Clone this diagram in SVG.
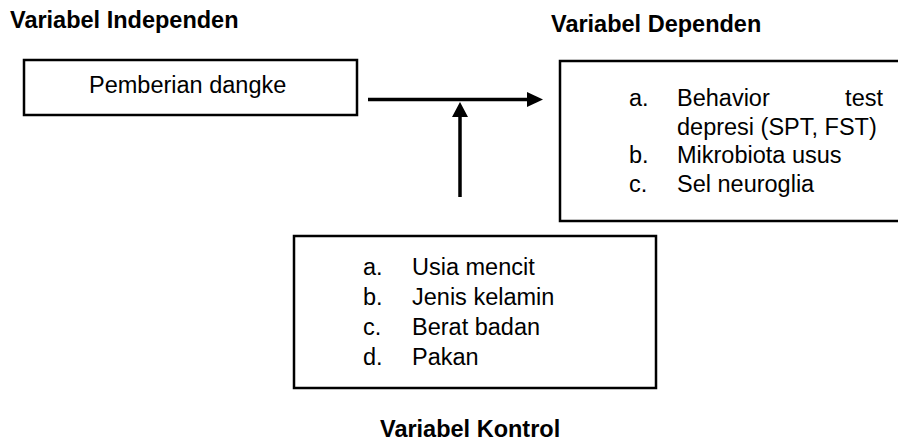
<svg xmlns="http://www.w3.org/2000/svg" width="898" height="446" viewBox="0 0 898 446">
<style>
text{font-family:"Liberation Sans",Arial,sans-serif;font-size:23.5px;fill:#000}
.t{font-weight:bold}
.box{fill:#fff;stroke:#000;stroke-width:2.5}
.ln{stroke:#000;stroke-width:3.5;fill:none}
</style>
<rect width="898" height="446" fill="#fff"/>
<text class="t" x="10" y="28">Variabel Independen</text>
<text class="t" x="551" y="32">Variabel Dependen</text>
<text class="t" x="380" y="437">Variabel Kontrol</text>
<g id="independen">
<rect class="box" x="24" y="60" width="333" height="55"/>
<text x="89" y="93">Pemberian dangke</text>
</g>
<g id="dependen">
<rect class="box" x="560" y="61" width="400" height="160"/>
<text x="629" y="106">a.</text><text x="677" y="106">Behavior</text><text x="883" y="106" text-anchor="end">test</text>
<text x="677" y="134.5">depresi (SPT, FST)</text>
<text x="629" y="163">b.</text><text x="677" y="163">Mikrobiota usus</text>
<text x="629" y="191.5">c.</text><text x="677" y="191.5">Sel neuroglia</text>
</g>
<g id="kontrol">
<rect class="box" x="294" y="236" width="362" height="152"/>
<text x="363" y="275">a.</text><text x="412" y="275">Usia mencit</text>
<text x="363" y="305">b.</text><text x="412" y="305">Jenis kelamin</text>
<text x="363" y="335">c.</text><text x="412" y="335">Berat badan</text>
<text x="363" y="365">d.</text><text x="412" y="365">Pakan</text>
</g>
<g id="connectors">
<line class="ln" x1="368" y1="99.5" x2="529" y2="99.5"/>
<polygon points="527,92 543,99.5 527,107"/>
<line class="ln" x1="460" y1="197" x2="460" y2="115"/>
<polygon points="452,117 460,102 468,117"/>
</g>
</svg>
